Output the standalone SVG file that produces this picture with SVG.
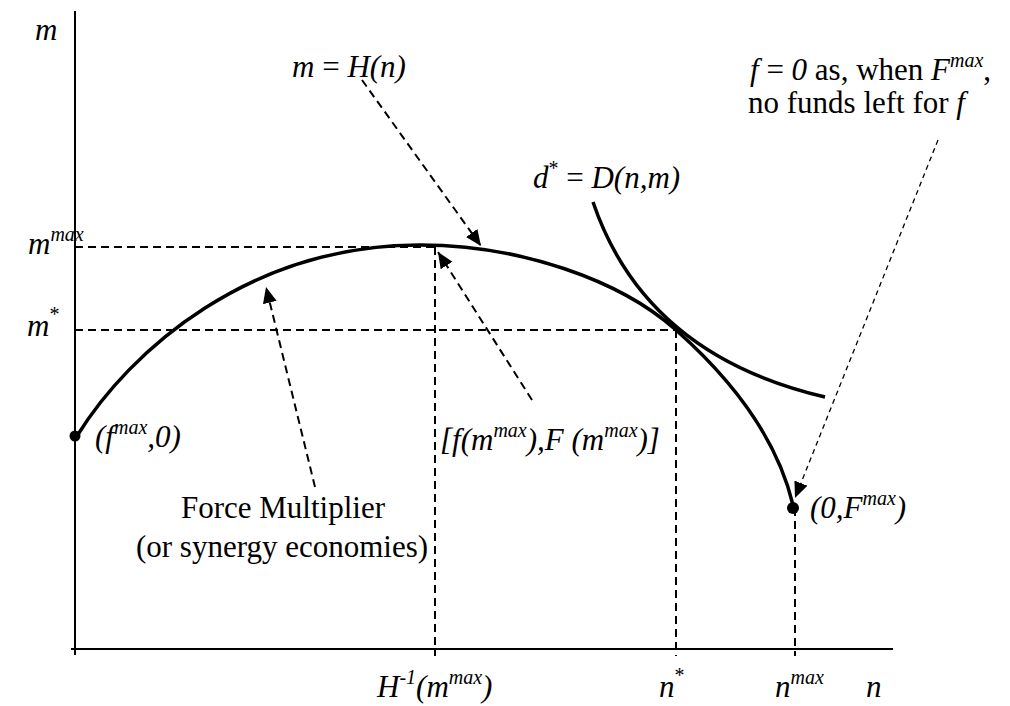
<svg xmlns="http://www.w3.org/2000/svg" width="1010" height="706" viewBox="0 0 1010 706">
<defs>
<style>
text{font-family:"Liberation Serif","Times New Roman",serif;font-size:31px;fill:#000}
.it{font-style:italic}
.sup{font-size:20px}
.axis{stroke:#000;stroke-width:2;fill:none}
.guide{stroke:#000;stroke-width:2;stroke-dasharray:8 5;fill:none}
.ptr{stroke:#000;stroke-width:2;stroke-dasharray:8 5;fill:none;marker-end:url(#ah)}
.ptr2{stroke:#000;stroke-width:1.3;stroke-dasharray:5 4;fill:none;marker-end:url(#ah)}
.curve{stroke:#000;stroke-width:3.5;fill:none}
</style>
<marker id="ah" markerUnits="userSpaceOnUse" markerWidth="18" markerHeight="16" refX="16" refY="7" orient="auto" viewBox="0 0 18 14">
<path d="M0,0 L16,7 L0,14 Z" fill="#000"/>
</marker>
</defs>
<rect width="1010" height="706" fill="#fff"/>
<g id="axes">
<line class="axis" x1="75" y1="11" x2="75" y2="655"/>
<line class="axis" x1="71" y1="649" x2="893" y2="649"/>
</g>
<g id="guides">
<line class="guide" x1="75" y1="247" x2="435" y2="247"/>
<line class="guide" x1="75" y1="330" x2="676" y2="330"/>
<line class="guide" x1="435" y1="247" x2="435" y2="656"/>
<line class="guide" x1="676" y1="330" x2="676" y2="656"/>
<line class="guide" x1="795" y1="508" x2="795" y2="656"/>
</g>
<g id="curve-H">
<path class="curve" d="M77,436 C130,350 250,245 420,245 C520,245 620,280 676,330 C720,369 775,430 793,505"/>
</g>
<g id="curve-D">
<path class="curve" d="M593,202 Q645,355 825,397"/>
</g>
<g id="points">
<circle cx="75" cy="436" r="5.5"/>
<circle cx="793" cy="508" r="6"/>
</g>
<g id="connectors">
<line class="ptr" x1="362" y1="80" x2="481" y2="246"/>
<line class="ptr" x1="532" y1="400" x2="438" y2="252"/>
<line class="ptr" x1="315" y1="487" x2="266" y2="287"/>
<line class="ptr2" x1="938" y1="140" x2="795" y2="498"/>
</g>
<g id="label-m-axis"><text x="35" y="40" class="it">m</text></g>
<g id="label-H"><text x="292" y="77"><tspan class="it">m</tspan> = <tspan class="it">H(n)</tspan></text></g>
<g id="label-f0">
<text x="750" y="80"><tspan class="it">f</tspan> = <tspan class="it">0</tspan> as, when <tspan class="it">F</tspan><tspan class="sup it" dy="-13">max</tspan><tspan dy="13">,</tspan></text>
<text x="748" y="113">no funds left for <tspan class="it">f</tspan></text>
</g>
<g id="label-D"><text x="533" y="188"><tspan class="it">d</tspan><tspan class="sup" dy="-13">*</tspan><tspan dy="13"> = </tspan><tspan class="it">D(n,m)</tspan></text></g>
<g id="label-mmax"><text x="28" y="254" class="it">m<tspan class="sup" dy="-13">max</tspan></text></g>
<g id="label-mstar"><text x="27" y="336" class="it">m<tspan class="sup" dy="-15" font-style="normal">*</tspan></text></g>
<g id="label-fmax"><text x="95" y="447" class="it">(f<tspan class="sup" dy="-13">max</tspan><tspan dy="13">,0)</tspan></text></g>
<g id="label-peak"><text x="440" y="450" class="it">[f(m<tspan class="sup" dy="-13">max</tspan><tspan dy="13">),F (m</tspan><tspan class="sup" dy="-13">max</tspan><tspan dy="13">)]</tspan></text></g>
<g id="label-Fmax"><text x="810" y="518" class="it">(0,F<tspan class="sup" dy="-13">max</tspan><tspan dy="13">)</tspan></text></g>
<g id="label-force">
<text x="283" y="518" text-anchor="middle">Force Multiplier</text>
<text x="282" y="557" text-anchor="middle">(or synergy economies)</text>
</g>
<g id="label-x">
<text x="377" y="697" class="it">H<tspan class="sup" dy="-13">-1</tspan><tspan dy="13">(m</tspan><tspan class="sup" dy="-13">max</tspan><tspan dy="13">)</tspan></text>
<text x="659" y="697" class="it">n<tspan class="sup" dy="-15" font-style="normal">*</tspan></text>
<text x="775" y="697" class="it">n<tspan class="sup" dy="-13">max</tspan></text>
<text x="866" y="697" class="it">n</text>
</g>
</svg>
